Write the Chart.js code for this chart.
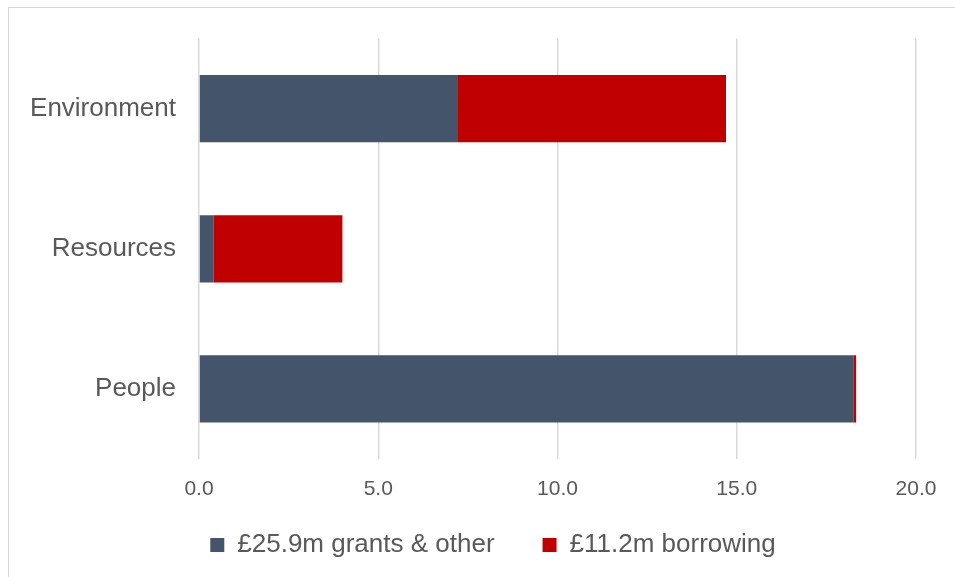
<!DOCTYPE html>
<html>
<head>
<meta charset="utf-8">
<script src="https://cdn.jsdelivr.net/npm/chart.js@4/dist/chart.umd.min.js"></script>
<style>
  html, body { margin: 0; padding: 0; background: #fff; overflow: hidden; }
  .frame {
    position: absolute; left: 8px; top: 7px; width: 980px; height: 600px;
    border: 1px solid #d9d9d9;
  }
  #chart { position: absolute; left: 0; top: 0; }
</style>
</head>
<body>
<div class="frame"></div>
<canvas id="chart" width="955" height="577"></canvas>
<script>
// categories, top to bottom
const categories = ['Environment', 'Resources', 'People']

// £m by funding source
const grantsOther = [7.2, 0.4, 18.25]
const borrowing = [7.5, 3.6, 0.08]

const seriesNames = ['£25.9m grants & other', '£11.2m borrowing']

const xTicks = [0, 5, 10, 15, 20]

const textColor = '#595959'
const gridColor = '#d9d9d9'

// legend: fixed height, then nudged to where the reference has it
const legendPlace = {
  id: 'legendPlace',
  beforeLayout (chart) {
    const legend = chart.legend
    if (!legend || legend._patched) return
    const fit = legend.fit
    legend.fit = function () {
      fit.call(this)
      this.height = 68
    }
    legend._patched = true
  },
  afterLayout (chart) {
    const legend = chart.legend
    if (!legend) return
    const dx = 35
    legend.left += dx
    legend.right += dx
    legend.top = 484
    legend.bottom = chart.height
    legend.height = legend.bottom - legend.top
  }
}

const ctx = document.getElementById('chart').getContext('2d')
new Chart(ctx, {
  type: 'bar',
  data: {
    labels: categories,
    datasets: [
      {
        label: seriesNames[0],
        data: grantsOther,
        backgroundColor: '#44546a',
        barPercentage: 0.48,
        categoryPercentage: 1
      },
      {
        label: seriesNames[1],
        data: borrowing,
        backgroundColor: '#c00000',
        barPercentage: 0.48,
        categoryPercentage: 1
      }
    ]
  },
  plugins: [legendPlace],
  options: {
    indexAxis: 'y',
    responsive: false,
    animation: false,
    devicePixelRatio: 1,
    layout: {
      padding: { top: 37, right: 39, left: 0, bottom: 0 }
    },
    scales: {
      x: {
        stacked: true,
        min: 0,
        max: 20,
        afterBuildTicks (scale) {
          scale.ticks = xTicks.map(v => ({ value: v }))
        },
        afterFit (scale) {
          scale.height = 50
        },
        grid: { color: gridColor, lineWidth: 1.5, drawTicks: false },
        border: { display: false },
        ticks: {
          padding: 18,
          color: textColor,
          font: { family: 'Liberation Sans, Arial, sans-serif', size: 21 },
          callback: v => Number(v).toFixed(1)
        }
      },
      y: {
        stacked: true,
        afterFit (scale) {
          scale.width = 199
        },
        grid: { display: false, drawTicks: false },
        border: { display: false },
        ticks: {
          padding: 23,
          color: textColor,
          font: { family: 'Liberation Sans, Arial, sans-serif', size: 26 }
        }
      }
    },
    plugins: {
      tooltip: { enabled: false },
      legend: {
        position: 'bottom',
        labels: {
          boxWidth: 14,
          boxHeight: 14,
          padding: 48,
          color: textColor,
          font: { family: 'Liberation Sans, Arial, sans-serif', size: 26 }
        }
      }
    }
  }
})
</script>
</body>
</html>
